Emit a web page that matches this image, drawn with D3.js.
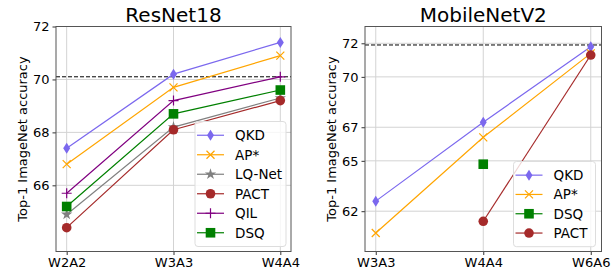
<!DOCTYPE html>
<html><head><meta charset="utf-8">
<script src="https://cdn.jsdelivr.net/npm/d3@7"></script>
<style>body{margin:0;background:#fff}svg{display:block;font-family:"DejaVu Sans",sans-serif}</style>
</head><body><svg id="c" width="613" height="275"></svg>
<script>
// ResNet18 panel
const resCats = ["W2A2", "W3A3", "W4A4"];
const resQKD = [67.4, 70.2, 71.4];
const resAP = [66.8, 69.7, 70.9];
const resLQ = [64.9, 68.2, 69.3];
const resPACT = [64.4, 68.1, 69.2];
const resQIL = [65.7, 69.2, 70.1];
const resDSQ = [65.2, 68.7, 69.6];
const resFP = 70.1;
const resTicks = [66, 68, 70, 72];
// MobileNetV2 panel
const mobCats = ["W3A3", "W4A4", "W6A6"];
const mobQKD = [62.6, 67.3, 71.8];
const mobAP = [60.7, 66.4, 71.4];
const mobDSQ = [null, 64.8, null];
const mobPACT = [null, 61.4, 71.3];
const mobFP = 71.9;
const mobTicks = [62, 65, 67, 70, 72];

const svg = d3.select("#c");
const styles = {
  QKD: {color: "#7b68ee", marker: "diamond"},
  "AP*": {color: "#ffa500", marker: "x"},
  "LQ-Net": {color: "#808080", marker: "star"},
  PACT: {color: "#a52a2a", marker: "circle"},
  QIL: {color: "#800080", marker: "plus"},
  DSQ: {color: "#008000", marker: "square"}
};

function drawMarker(g, type, color, x, y) {
  if (type === "circle") g.append("circle").attr("cx", x).attr("cy", y).attr("r", 4.8).attr("fill", color);
  else if (type === "square") g.append("rect").attr("x", x - 4.8).attr("y", y - 4.8).attr("width", 9.6).attr("height", 9.6).attr("fill", color);
  else if (type === "diamond") g.append("path").attr("d", `M${x},${y-5.5}L${x+3.5},${y}L${x},${y+5.5}L${x-3.5},${y}Z`).attr("fill", color);
  else if (type === "x") g.append("path").attr("d", `M${x-4},${y-4}L${x+4},${y+4}M${x-4},${y+4}L${x+4},${y-4}`).attr("stroke", color).attr("stroke-width", 1.2).attr("fill", "none");
  else if (type === "plus") g.append("path").attr("d", `M${x-5},${y}L${x+5},${y}M${x},${y-5}L${x},${y+5}`).attr("stroke", color).attr("stroke-width", 1.2).attr("fill", "none");
  else if (type === "star") g.append("path").attr("d", d3.symbol(d3.symbolStar, 40)()).attr("transform", `translate(${x},${y})`).attr("fill", color);
}

function panel(opts) {
  const {left, right, top, bottom, cats, series, ticks, ydom, fp, title, legend} = opts;
  const g = svg.append("g");
  const x = d3.scaleLinear().domain([-0.1, cats.length - 1 + 0.1]).range([left, right]);
  const y = d3.scaleLinear().domain(ydom).range([bottom, top]);
  // grid
  g.selectAll(".gx").data(cats).enter().append("line")
    .attr("x1", (d, i) => x(i)).attr("x2", (d, i) => x(i)).attr("y1", top).attr("y2", bottom)
    .attr("stroke", "#d3d3d3").attr("stroke-width", 1);
  g.selectAll(".gy").data(ticks).enter().append("line")
    .attr("x1", left).attr("x2", right).attr("y1", d => y(d)).attr("y2", d => y(d))
    .attr("stroke", "#d3d3d3").attr("stroke-width", 1);
  // axes
  const ya = g.append("g").attr("transform", `translate(${left},0)`)
    .call(d3.axisLeft(y).tickValues(ticks).tickFormat(d3.format("d")).tickSize(3.5).tickPadding(3));
  const xa = g.append("g").attr("transform", `translate(0,${bottom})`)
    .call(d3.axisBottom(x).tickValues(cats.map((d, i) => i)).tickFormat(i => cats[i]).tickSize(3.5).tickPadding(3));
  [ya, xa].forEach(a => {
    a.select(".domain").remove();
    a.selectAll("line").attr("stroke", "#333");
    a.selectAll("text").attr("font-size", 13).attr("fill", "#000").attr("font-family", "DejaVu Sans");
  });
  // fp dashed line
  g.append("line").attr("x1", left).attr("x2", right).attr("y1", y(fp)).attr("y2", y(fp))
    .attr("stroke", "#000").attr("stroke-width", 1).attr("stroke-dasharray", "4,2");
  // series
  series.forEach(s => {
    const st = styles[s.name];
    const pts = s.values.map((v, i) => [i, v]).filter(p => p[1] != null);
    g.append("path").datum(pts)
      .attr("d", d3.line().x(p => x(p[0])).y(p => y(p[1])))
      .attr("fill", "none").attr("stroke", st.color).attr("stroke-width", 1.2);
    pts.forEach(p => drawMarker(g, st.marker, st.color, x(p[0]), y(p[1])));
  });
  // spines
  g.append("rect").attr("x", left).attr("y", top).attr("width", right - left).attr("height", bottom - top)
    .attr("fill", "none").attr("stroke", "#555").attr("stroke-width", 1);
  // title
  g.append("text").attr("x", (left + right) / 2).attr("y", 22).attr("text-anchor", "middle")
    .attr("font-size", 20).text(title);
  // y label
  g.append("text").attr("transform", `translate(${left - 29},${(top + bottom) / 2}) rotate(-90)`)
    .attr("text-anchor", "middle").attr("font-size", 13).text("Top-1 ImageNet accuracy");
  // legend
  const L = legend;
  const lg = svg.append("g");
  const lh = series.length * L.step + 8;
  lg.append("rect").attr("x", L.x).attr("y", L.y).attr("width", L.w).attr("height", lh)
    .attr("rx", 3).attr("fill", "#fff").attr("fill-opacity", 0.8).attr("stroke", "#ddd");
  series.forEach((s, i) => {
    const st = styles[s.name];
    const cy = L.y + 4 + L.step * (i + 0.5);
    lg.append("line").attr("x1", L.x + 2).attr("x2", L.x + 29).attr("y1", cy).attr("y2", cy)
      .attr("stroke", st.color).attr("stroke-width", 1.2);
    drawMarker(lg, st.marker, st.color, L.x + 15.5, cy);
    lg.append("text").attr("x", L.x + 40).attr("y", cy).attr("dy", "0.36em")
      .attr("font-size", 13.5).text(s.name);
  });
}

panel({
  left: 56, right: 291, top: 26.5, bottom: 251.5,
  cats: resCats, ticks: resTicks, ydom: [63.5, 72], fp: resFP, title: "ResNet18",
  series: [
    {name: "QKD", values: resQKD}, {name: "AP*", values: resAP}, {name: "LQ-Net", values: resLQ},
    {name: "PACT", values: resPACT}, {name: "QIL", values: resQIL}, {name: "DSQ", values: resDSQ}
  ],
  legend: {x: 195, y: 121.5, w: 91, step: 19.5}
});
panel({
  left: 365, right: 601.5, top: 26.5, bottom: 251.5,
  cats: mobCats, ticks: mobTicks, ydom: [59.6, 73], fp: mobFP, title: "MobileNetV2",
  series: [
    {name: "QKD", values: mobQKD}, {name: "AP*", values: mobAP},
    {name: "DSQ", values: mobDSQ}, {name: "PACT", values: mobPACT}
  ],
  legend: {x: 513.5, y: 161.5, w: 82, step: 19.3}
});
</script></body></html>
